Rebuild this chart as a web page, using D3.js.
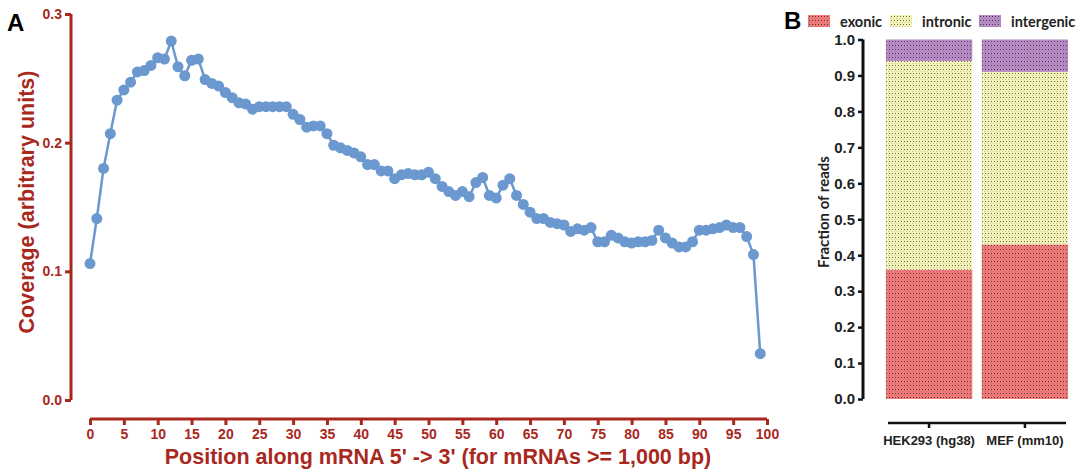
<!DOCTYPE html>
<html>
<head>
<meta charset="utf-8">
<script src="https://cdn.jsdelivr.net/npm/d3@7"></script>
<style>
  body { margin: 0; background: #fff; }
  svg { display: block; }
</style>
</head>
<body>
<svg id="chart" width="1089" height="476"></svg>
<script>
// Panel A: coverage along mRNA (positions 0..99)
const positions = d3.range(0, 100);
const coverage = [
  0.106, 0.141, 0.180, 0.207, 0.233, 0.241, 0.247, 0.255, 0.256, 0.260,
  0.266, 0.265, 0.279, 0.259, 0.252, 0.264, 0.265, 0.249, 0.246, 0.244,
  0.239, 0.235, 0.231, 0.230, 0.226, 0.228, 0.228, 0.228, 0.228, 0.228,
  0.222, 0.218, 0.212, 0.213, 0.213, 0.207, 0.198, 0.196, 0.194, 0.192,
  0.189, 0.183, 0.183, 0.178, 0.178, 0.172, 0.175, 0.176, 0.175, 0.175,
  0.177, 0.172, 0.166, 0.162, 0.159, 0.162, 0.158, 0.169, 0.173, 0.159,
  0.157, 0.167, 0.172, 0.159, 0.152, 0.146, 0.141, 0.141, 0.138, 0.137,
  0.136, 0.131, 0.133, 0.132, 0.134, 0.123, 0.123, 0.128, 0.126, 0.123,
  0.122, 0.123, 0.123, 0.124, 0.132, 0.126, 0.122, 0.119, 0.119, 0.123,
  0.132, 0.132, 0.133, 0.134, 0.136, 0.134, 0.134, 0.127, 0.113, 0.036
];
const xTicksA = d3.range(0, 101, 5);
const yTicksA = [0.0, 0.1, 0.2, 0.3];

// Panel B: fraction of reads
const samples = ['HEK293 (hg38)', 'MEF (mm10)'];
const categories = ['exonic', 'intronic', 'intergenic'];
const exonic = [0.36, 0.43];
const intronic = [0.58, 0.48];
const intergenic = [0.06, 0.09];
const yTicksB = d3.range(0, 11).map(d => d / 10);

const red = '#a8281e';
const blue = '#6a98cf';
const catColors = { exonic: '#f07a7a', intronic: '#f4f3b8', intergenic: '#b98bc6' };

const svg = d3.select('#chart');

// dotted fill patterns
const defs = svg.append('defs');
categories.forEach(c => {
  const p = defs.append('pattern')
    .attr('id', 'pat-' + c)
    .attr('patternUnits', 'userSpaceOnUse')
    .attr('width', 3).attr('height', 4);
  p.append('rect').attr('width', 3).attr('height', 4).attr('fill', catColors[c]);
  p.append('rect').attr('x', 1).attr('y', 1).attr('width', 1).attr('height', 1)
    .attr('fill', '#000').attr('fill-opacity', 0.6);
  p.append('rect').attr('x', 0).attr('y', 3).attr('width', 1).attr('height', 1)
    .attr('fill', '#555').attr('fill-opacity', 0.3);
});

// ---------- Panel A ----------
const xA = d3.scaleLinear().domain([0, 100]).range([90, 767]);
const yA = d3.scaleLinear().domain([0, 0.3]).range([400, 14]);

const gA = svg.append('g').attr('font-family', '"Liberation Sans", Arial, sans-serif');

const yAxisA = gA.append('g')
  .attr('transform', 'translate(71,0)')
  .call(d3.axisLeft(yA).tickValues(yTicksA).tickFormat(d3.format('.1f')).tickSize(6).tickPadding(3));
const xAxisA = gA.append('g')
  .attr('transform', 'translate(0,419)')
  .call(d3.axisBottom(xA).tickValues(xTicksA).tickFormat(d3.format('d')).tickSize(6).tickPadding(4));

[yAxisA, xAxisA].forEach(ax => {
  ax.select('.domain').attr('stroke', red).attr('stroke-width', 3);
  ax.selectAll('.tick line').attr('stroke', red).attr('stroke-width', 3);
  ax.selectAll('.tick text').attr('fill', red).attr('font-size', 14).attr('font-weight', 'bold');
});
// strip the outer tick stubs from the domain paths
yAxisA.select('.domain').attr('d', `M0,${yA(0.3)}V${yA(0)}`);
xAxisA.select('.domain').attr('d', `M${xA(0)},0H${xA(100)}`);

gA.append('text')
  .attr('transform', 'translate(34,202) rotate(-90)')
  .attr('text-anchor', 'middle')
  .attr('fill', red).attr('font-size', 21.5).attr('font-weight', 'bold')
  .text('Coverage (arbitrary units)');

gA.append('text')
  .attr('x', 438).attr('y', 464)
  .attr('text-anchor', 'middle')
  .attr('fill', red).attr('font-size', 21.5).attr('font-weight', 'bold')
  .text("Position along mRNA 5' -> 3' (for mRNAs >= 1,000 bp)");

const line = d3.line().x((d, i) => xA(positions[i])).y(d => yA(d));
gA.append('path')
  .datum(coverage)
  .attr('fill', 'none')
  .attr('stroke', blue)
  .attr('stroke-width', 2.5)
  .attr('d', line);

gA.selectAll('circle.pt').data(coverage).enter()
  .append('circle')
  .attr('class', 'pt')
  .attr('cx', (d, i) => xA(positions[i]))
  .attr('cy', d => yA(d))
  .attr('r', 5.5)
  .attr('fill', blue);

gA.append('text')
  .attr('x', 7).attr('y', 31)
  .attr('font-size', 24).attr('font-weight', 'bold').attr('fill', '#000')
  .text('A');

// ---------- Panel B ----------
const fontB = 'Lato, "Open Sans", sans-serif';
const xB = d3.scaleBand().domain(samples).range([884, 1070]).paddingInner(0.1).paddingOuter(0.02);
const yB = d3.scaleLinear().domain([0, 1]).range([399, 39.5]);

const gB = svg.append('g').attr('font-family', fontB);

const rows = samples.map((s, i) => ({ sample: s, exonic: exonic[i], intronic: intronic[i], intergenic: intergenic[i] }));
const stacked = d3.stack().keys(categories)(rows);

gB.selectAll('g.layer').data(stacked).enter()
  .append('g')
  .attr('class', 'layer')
  .attr('fill', d => `url(#pat-${d.key})`)
  .selectAll('rect').data(d => d).enter()
  .append('rect')
  .attr('x', d => xB(d.data.sample))
  .attr('width', xB.bandwidth())
  .attr('y', d => yB(Math.min(1, d[1])))
  .attr('height', d => yB(d[0]) - yB(Math.min(1, d[1])));

const yAxisB = gB.append('g')
  .attr('transform', 'translate(863,0)')
  .call(d3.axisLeft(yB).tickValues(yTicksB).tickFormat(d3.format('.1f')).tickSize(5).tickPadding(3));
yAxisB.select('.domain').attr('d', `M0,${yB(1)}V${yB(0)}`).attr('stroke', '#111').attr('stroke-width', 3);
yAxisB.selectAll('.tick line').attr('stroke', '#111').attr('stroke-width', 2.5);
yAxisB.selectAll('.tick text').attr('fill', '#222').attr('font-size', 15).attr('font-weight', 'bold');

const xAxisB = gB.append('g')
  .attr('transform', 'translate(0,423)')
  .call(d3.axisBottom(xB).tickSize(5).tickPadding(8));
xAxisB.select('.domain').attr('d', `M888,0H1066`).attr('stroke', '#111').attr('stroke-width', 2.5);
xAxisB.selectAll('.tick line').attr('stroke', '#111').attr('stroke-width', 2.5);
xAxisB.selectAll('.tick text').attr('fill', '#222').attr('font-size', 13).attr('font-weight', 'bold');

gB.append('text')
  .attr('transform', 'translate(829,212) rotate(-90)')
  .attr('text-anchor', 'middle')
  .attr('fill', '#222').attr('font-size', 15).attr('font-weight', 'bold')
  .text('Fraction of reads');

// legend
const legendX = [808, 890, 979];
const legend = gB.selectAll('g.leg').data(categories).enter()
  .append('g')
  .attr('class', 'leg')
  .attr('transform', (d, i) => `translate(${legendX[i]},15)`);
legend.append('rect')
  .attr('width', 22).attr('height', 12)
  .attr('fill', d => `url(#pat-${d})`);
legend.append('text')
  .attr('x', 32).attr('y', 12)
  .attr('fill', '#222').attr('font-size', 14.5).attr('font-weight', 'bold')
  .text(d => d);

svg.append('text')
  .attr('x', 784).attr('y', 29)
  .attr('font-family', '"Liberation Sans", Arial, sans-serif')
  .attr('font-size', 24).attr('font-weight', 'bold').attr('fill', '#000')
  .text('B');
</script>
</body>
</html>
